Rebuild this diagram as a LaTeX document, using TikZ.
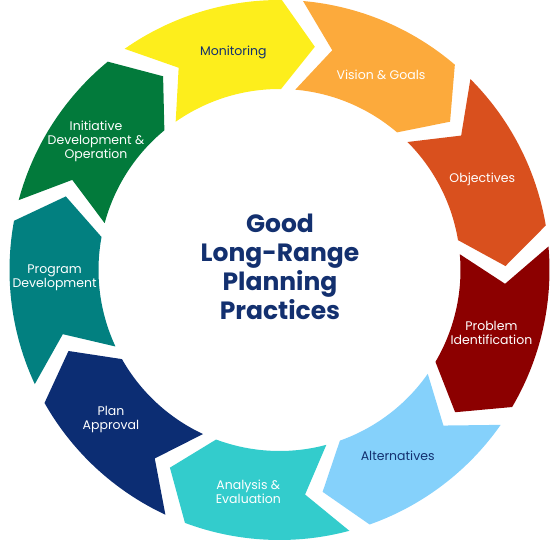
\documentclass[tikz,border=0pt]{standalone}
\usepackage{fontspec}
\setmainfont{Poppins}
\usepackage{tikz}
\usetikzlibrary{positioning}
\definecolor{monitoring}{HTML}{FDEE1C}
\definecolor{vision}{HTML}{FCAA3C}
\definecolor{objectives}{HTML}{D9501E}
\definecolor{problem}{HTML}{8C0000}
\definecolor{alternatives}{HTML}{85D1FB}
\definecolor{analysis}{HTML}{33CCCC}
\definecolor{approval}{HTML}{0C2D73}
\definecolor{program}{HTML}{028080}
\definecolor{initiative}{HTML}{027A3B}
\definecolor{navy}{HTML}{13306F}
\tikzstyle{phase}=[align=center, text=white, font=\fontsize{12.5}{14}\selectfont]
\tikzstyle{darkphase}=[phase, text=navy]
\tikzstyle{title}=[align=center, text=navy, font=\fontsize{25}{29}\selectfont\bfseries]
% one arrow piece of the ring: #1 = middle angle, #2 = colour
\newcommand{\chevron}[2]{%
  \fill[#2] (#1+22:270pt) arc[start angle=#1+22, end angle=#1-13.5, radius=270pt]
    -- (#1-22:226pt) -- (#1-13.5:181pt)
    arc[start angle=#1-13.5, end angle=#1+22, radius=181pt]
    -- (#1+13.5:226pt) -- cycle;}

\begin{document}
\begin{tikzpicture}
  \useasboundingbox (-279.5pt,-270pt) rectangle (270.5pt,270pt);

  \foreach \ang/\col in {103/monitoring, 63/vision, 23/objectives, -17/problem,
      -57/alternatives, -97/analysis, -137/approval, -177/program, 143/initiative}
    \chevron{\ang}{\col};

  \node[darkphase] (mon) at (102:222pt) {Monitoring};
  \node[phase] (vis) at (62.5:220pt) {Vision \& Goals};
  \node[phase] (obj) at (24:222pt) {Objectives};
  \node[phase] (prob) at (-16.5:221pt) {Problem\\Identification};
  \node[darkphase] (alt) at (-57.5:220pt) {Alternatives};
  \node[phase] (ana) at (-98:224pt) {Analysis \&\\Evaluation};
  \node[phase] (appr) at (-138.5:225pt) {Plan\\Approval};
  \node[phase] (prog) at (-178:225pt) {Program\\Development};
  \node[phase] (init) at (145:224pt) {Initiative\\Development \&\\Operation};

  \node[title] (centre) at (0.5pt,3pt) {Good\\Long-Range\\Planning\\Practices};
\end{tikzpicture}
\end{document}
